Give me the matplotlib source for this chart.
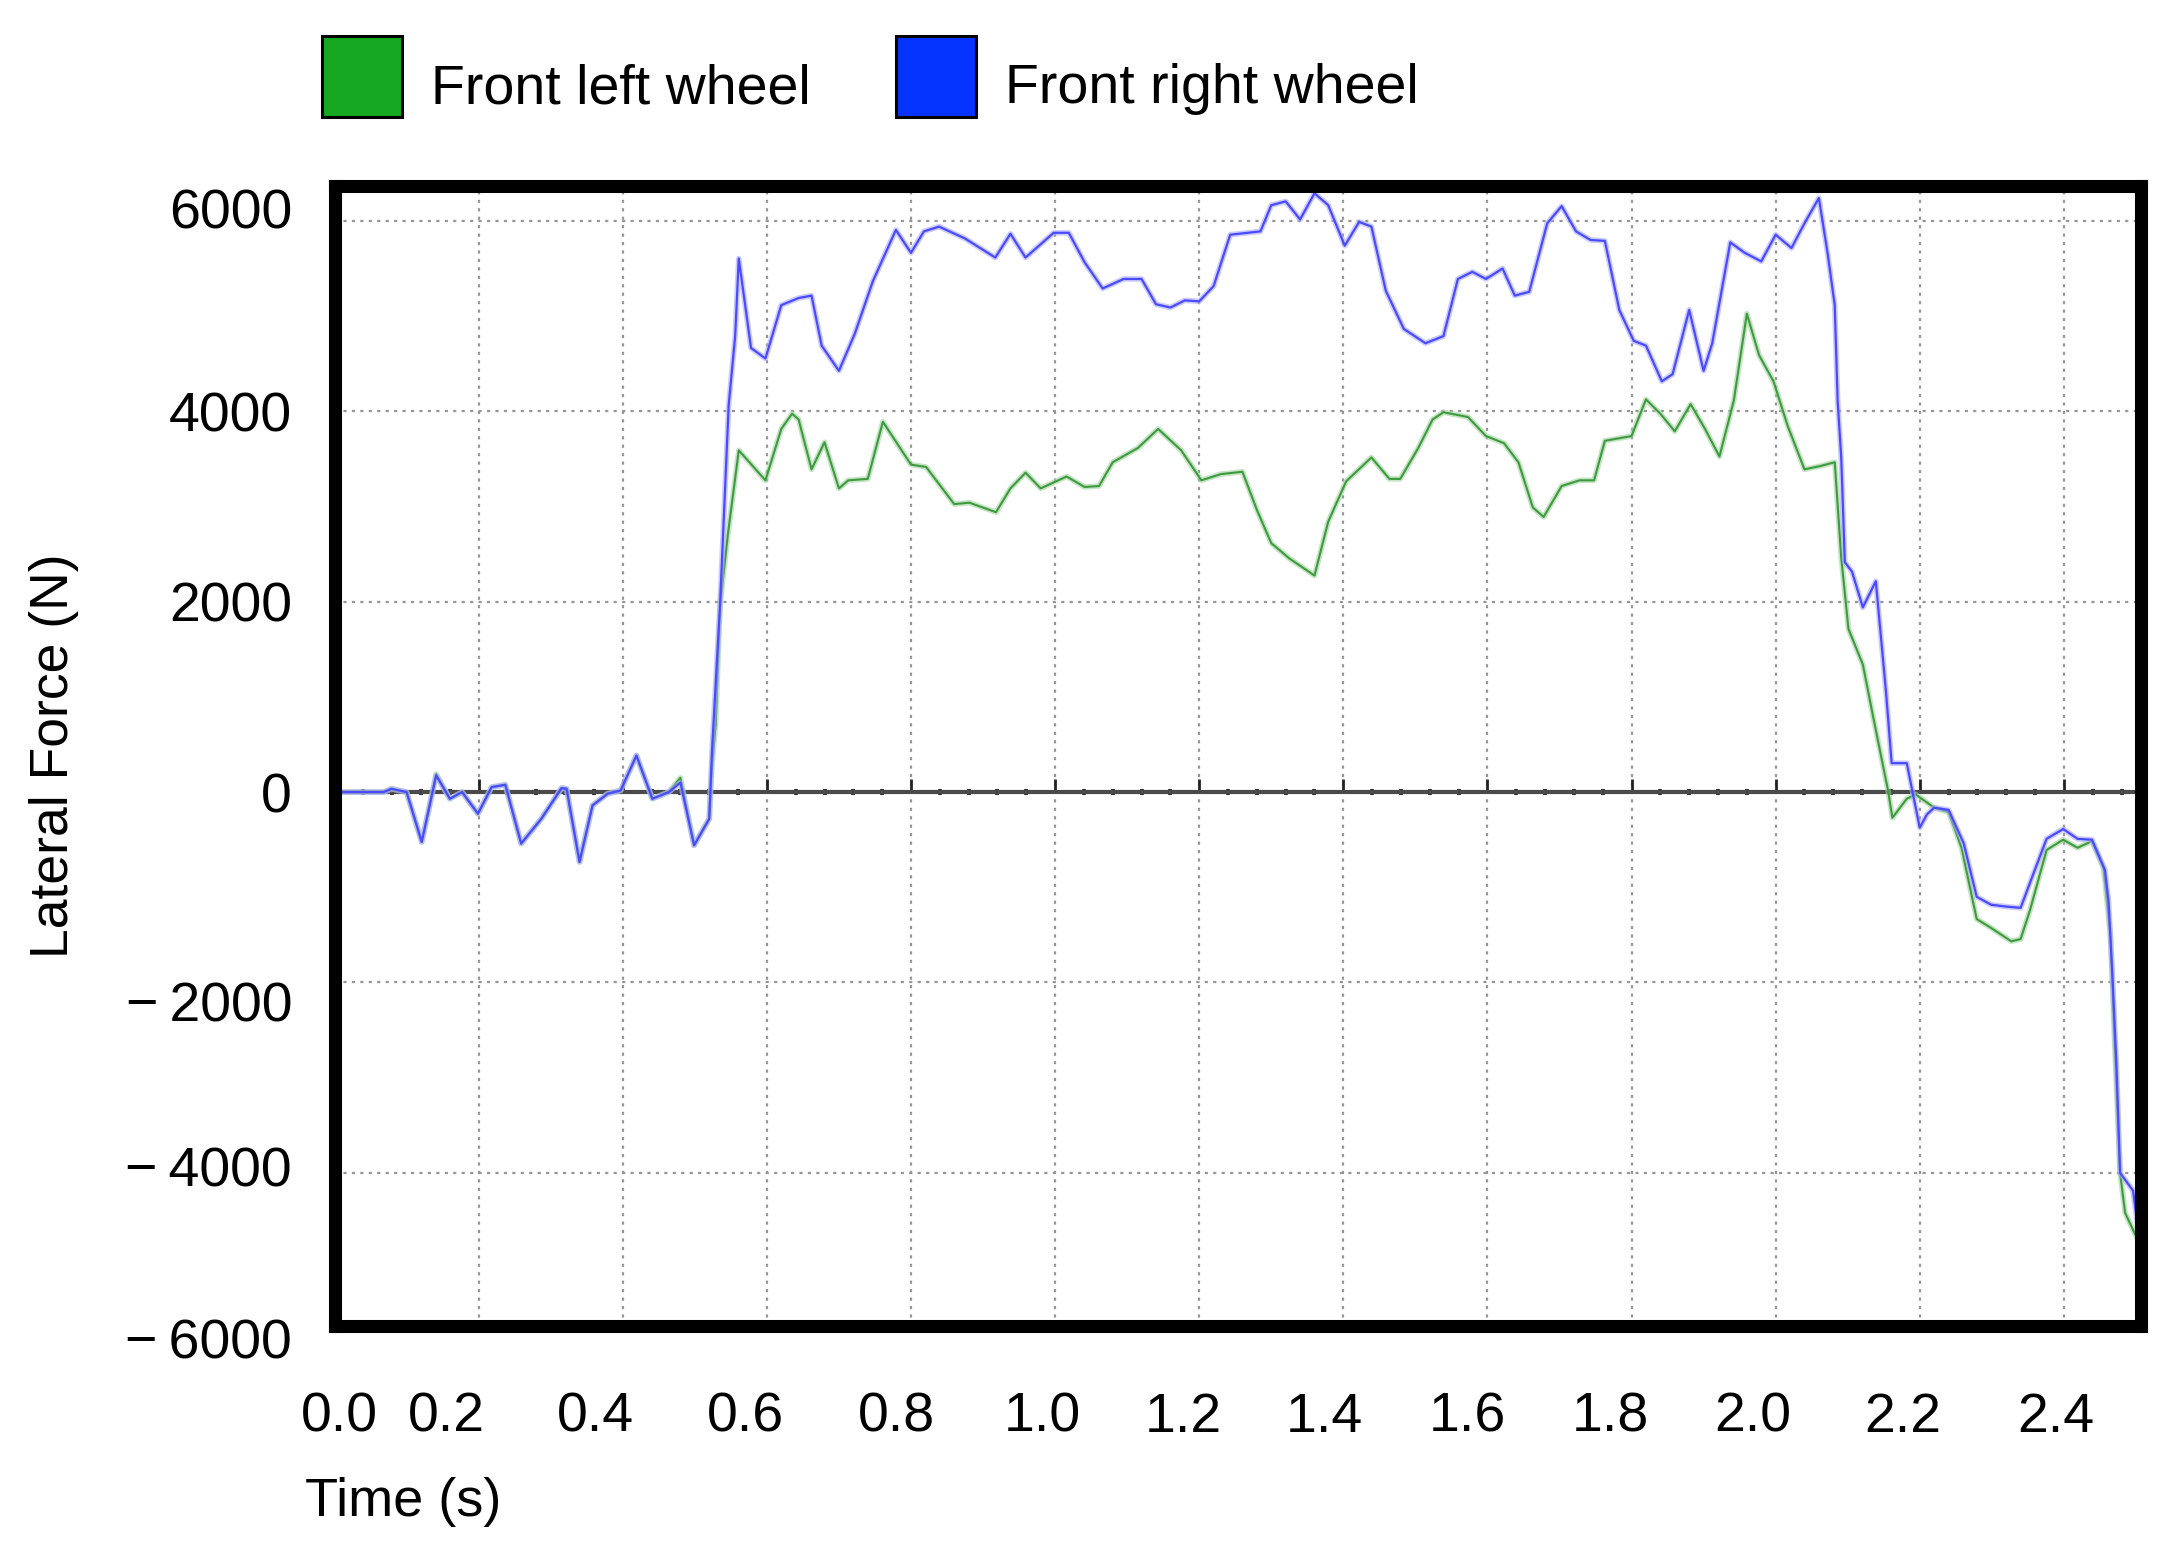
import matplotlib
matplotlib.use('Agg')
import matplotlib.pyplot as plt
from matplotlib.patches import Patch
from matplotlib.transforms import ScaledTranslation

plt.rcParams['font.family'] = ['Liberation Sans', 'DejaVu Sans']

# ---------------- data ----------------
series_labels = ['Front left wheel', 'Front right wheel']
legend_colors = ['#16a820', '#0433ff']

left_time = [0.0, 0.068, 0.079, 0.1, 0.121, 0.13, 0.141, 0.16, 0.177, 0.199, 0.218, 0.237,
             0.259, 0.287, 0.315, 0.322, 0.34, 0.358, 0.379, 0.397, 0.419, 0.441, 0.464, 0.48,
             0.499, 0.52, 0.524, 0.529, 0.535, 0.546, 0.552, 0.561, 0.598, 0.62, 0.635, 0.644,
             0.662, 0.68, 0.7, 0.713, 0.74, 0.761, 0.8, 0.821, 0.86, 0.881, 0.918, 0.938, 0.959,
             0.98, 1.016, 1.041, 1.061, 1.08, 1.115, 1.143, 1.175, 1.203, 1.23, 1.26, 1.28, 1.3,
             1.325, 1.36, 1.379, 1.404, 1.439, 1.464, 1.479, 1.504, 1.524, 1.539, 1.573, 1.598,
             1.623, 1.643, 1.663, 1.678, 1.703, 1.728, 1.748, 1.763, 1.8, 1.82, 1.84, 1.86, 1.882,
             1.902, 1.922, 1.942, 1.96, 1.977, 1.997, 2.017, 2.04, 2.062, 2.082, 2.091, 2.101,
             2.121, 2.136, 2.156, 2.162, 2.182, 2.194, 2.22, 2.24, 2.258, 2.279, 2.299, 2.327,
             2.34, 2.353, 2.376, 2.399, 2.419, 2.439, 2.455, 2.465, 2.47, 2.478, 2.485, 2.498, 2.51]
left_force = [0, 0, 35, 0, -524, -210, 190, -70, 0, -227, 52, 77,
              -541, -280, 42, 35, -734, -140, -17, 17, 384, -70, 0, 150,
              -559, -280, 300, 715, 1965, 2715, 3065, 3590, 3275, 3815, 3975, 3915,
              3390, 3675, 3190, 3275, 3290, 3890, 3440, 3415, 3025, 3040, 2940, 3190, 3355,
              3190, 3315, 3205, 3215, 3465, 3615, 3815, 3590, 3275, 3340, 3365, 2965, 2615,
              2455, 2275, 2840, 3265, 3515, 3290, 3290, 3615, 3915, 3990, 3940, 3740,
              3665, 3465, 2990, 2890, 3215, 3275, 3275, 3690, 3740, 4125, 3975, 3790, 4075,
              3815, 3525, 4115, 5025, 4590, 4315, 3840, 3390, 3425, 3465, 2465, 1715,
              1340, 765, 15, -270, -70, -23, -164, -210, -585, -1333, -1427, -1567,
              -1544, -1240, -608, -500, -585, -515, -795, -1520, -2550, -4000, -4420, -4630, -4800]

right_time = [0.0, 0.068, 0.079, 0.1, 0.121, 0.13, 0.141, 0.16, 0.177, 0.199, 0.218, 0.237,
              0.259, 0.287, 0.315, 0.322, 0.34, 0.358, 0.379, 0.397, 0.419, 0.441, 0.464, 0.48,
              0.499, 0.52, 0.524, 0.535, 0.547, 0.556, 0.561, 0.578, 0.598, 0.62, 0.644, 0.662,
              0.676, 0.7, 0.722, 0.747, 0.779, 0.8, 0.818, 0.839, 0.875, 0.917, 0.938, 0.959,
              0.998, 1.019, 1.041, 1.066, 1.095, 1.12, 1.14, 1.16, 1.18, 1.2, 1.22, 1.243, 1.285,
              1.3, 1.32, 1.34, 1.36, 1.379, 1.402, 1.422, 1.439, 1.459, 1.484, 1.514, 1.539,
              1.559, 1.579, 1.598, 1.621, 1.638, 1.658, 1.683, 1.703, 1.723, 1.743, 1.763, 1.783,
              1.803, 1.82, 1.842, 1.857, 1.88, 1.9, 1.912, 1.937, 1.957, 1.98, 2.0, 2.022, 2.04,
              2.06, 2.072, 2.082, 2.086, 2.091, 2.096, 2.106, 2.121, 2.139, 2.153, 2.161, 2.182,
              2.19, 2.2, 2.21, 2.22, 2.24, 2.261, 2.279, 2.299, 2.319, 2.34, 2.355, 2.376, 2.399,
              2.419, 2.439, 2.457, 2.462, 2.468, 2.473, 2.478, 2.496, 2.51]
right_force = [0, 0, 35, 0, -524, -210, 175, -70, 0, -227, 52, 77,
               -541, -280, 42, 35, -734, -140, -17, 17, 384, -70, 0, 100,
               -559, -280, 454, 1965, 4065, 4790, 5605, 4665, 4555, 5115, 5190, 5215,
               4690, 4425, 4815, 5365, 5905, 5665, 5890, 5940, 5815, 5615, 5865, 5615,
               5875, 5875, 5565, 5290, 5390, 5390, 5125, 5090, 5165, 5155, 5315, 5855, 5890,
               6165, 6205, 6015, 6290, 6165, 5740, 5990, 5940, 5265, 4865, 4715, 4790,
               5390, 5465, 5390, 5500, 5215, 5255, 5975, 6155, 5890, 5800, 5790, 5065,
               4740, 4690, 4315, 4390, 5065, 4425, 4715, 5775, 5665, 5575, 5855, 5715, 5975,
               6240, 5665, 5115, 4115, 3515, 2415, 2315, 1940, 2215, 1065, 304, 304,
               0, -374, -234, -164, -187, -538, -1100, -1183, -1202, -1216, -912, -491, -388,
               -491, -500, -819, -1146, -2035, -2877, -4000, -4187, -5000]

x_ticks = [0.0, 0.2, 0.4, 0.6, 0.8, 1.0, 1.2, 1.4, 1.6, 1.8, 2.0, 2.2, 2.4]
x_tick_labels = ['0.0', '0.2', '0.4', '0.6', '0.8', '1.0', '1.2', '1.4', '1.6', '1.8', '2.0', '2.2', '2.4']
y_ticks = [6000, 4000, 2000, 0, -2000, -4000]
y_tick_labels = ['6000', '4000', '2000', '0', '\u2212\u20092000', '\u2212\u20094000']
y_extra_tick = -5744
y_extra_label = '\u2212\u20096000'
x_label = 'Time (s)'
y_label = 'Lateral Force (N)'

# label nudges in pixels (the original has slightly misaligned labels)
x_label_dx = [4.5, -32, -27, -21, -15, -13, -16, -19, -20, -21, -23, -17, -8]
y_label_dy = [12, 0, 0, 0, -19, 6]

# ---------------- figure ----------------
fig = plt.figure(figsize=(21.78, 15.42), dpi=100)
ax = fig.add_axes([0.1536, 0.1401, 0.8294, 0.7393])
ax.set_xlim(0, 2.507)
ax.set_ylim(-5608, 6367)

# grid
ax.set_xticks(x_ticks)
ax.set_xticklabels(x_tick_labels)
ax.set_yticks(y_ticks)
ax.set_yticklabels(y_tick_labels)
ax.grid(True, color='#959595', linestyle=(0, (1.4, 2.4)), linewidth=1.6)
ax.set_axisbelow(True)
ax.tick_params(axis='both', length=0, labelsize=40)
ax.tick_params(axis='x', pad=47.5)
ax.tick_params(axis='y', pad=30.6)

# curves: light halo + thin core
ax.plot(left_time, left_force, color='#9fd29f', lw=4.0, alpha=0.6, zorder=3, solid_joinstyle='round')
ax.plot(left_time, left_force, color='#3e9a3e', lw=1.5, zorder=4, solid_joinstyle='round')
ax.plot(right_time, right_force, color='#a9a9ff', lw=4.0, alpha=0.6, zorder=5, solid_joinstyle='round')
ax.plot(right_time, right_force, color='#4a4aff', lw=1.6, zorder=6, solid_joinstyle='round')

# zero axis line with ticks
sec = ax.secondary_xaxis(0, transform=ax.transData)
for side in ['top', 'left', 'right']:
    sec.spines[side].set_visible(False)
sec.spines['bottom'].set_color('#4a4a4a')
sec.spines['bottom'].set_linewidth(3.0)
sec.set_xticks(x_ticks)
sec.set_xticks([i * 0.04 for i in range(0, 63)], minor=True)
sec.tick_params(axis='x', which='major', direction='in', length=9.5, width=2.0,
                color='#222222', labelbottom=False)
sec.tick_params(axis='x', which='minor', direction='inout', length=4.5, width=2.6,
                color='#222222', labelbottom=False)
sec.set_zorder(2.5)

# frame
for s in ax.spines.values():
    s.set_linewidth(9.4)
    s.set_color('black')
    s.set_capstyle('projecting')
    s.set_zorder(10)

# labels
ax.set_xlabel(x_label, fontsize=39)
ax.xaxis.set_label_coords(-0.0163, -0.1325)
ax.xaxis.label.set_ha('left')
ax.xaxis.label.set_va('top')
ax.set_ylabel(y_label, fontsize=38.5)
ax.yaxis.set_label_coords(-0.1417, 0.5)

# tick label nudges
for lab, dx in zip(ax.get_xticklabels(), x_label_dx):
    lab.set_transform(lab.get_transform() + ScaledTranslation(dx / 100, 0, fig.dpi_scale_trans))
for lab, dy in zip(ax.get_yticklabels(), y_label_dy):
    lab.set_transform(lab.get_transform() + ScaledTranslation(0, dy / 100, fig.dpi_scale_trans))

ax.annotate(y_extra_label, xy=(0, y_extra_tick), xycoords=('axes fraction', 'data'),
            xytext=(-30.6, 0), textcoords='offset points', ha='right', va='center_baseline',
            fontsize=40, annotation_clip=False)

# legend
handles = [Patch(facecolor=c, edgecolor='black', linewidth=2.2, label=l)
           for c, l in zip(legend_colors, series_labels)]
leg = fig.legend(handles=handles, ncol=2, loc='upper left',
                 bbox_to_anchor=(322 / 2178, 1 - 36 / 1542), frameon=False, fontsize=40,
                 handlelength=1.44, handleheight=1.865, handletextpad=0.52, columnspacing=1.53,
                 borderpad=0, borderaxespad=0)
for txt in leg.get_texts():
    txt.set_transform(txt.get_transform() + ScaledTranslation(0, -0.09, fig.dpi_scale_trans))

fig.savefig('out.png', dpi=100)
